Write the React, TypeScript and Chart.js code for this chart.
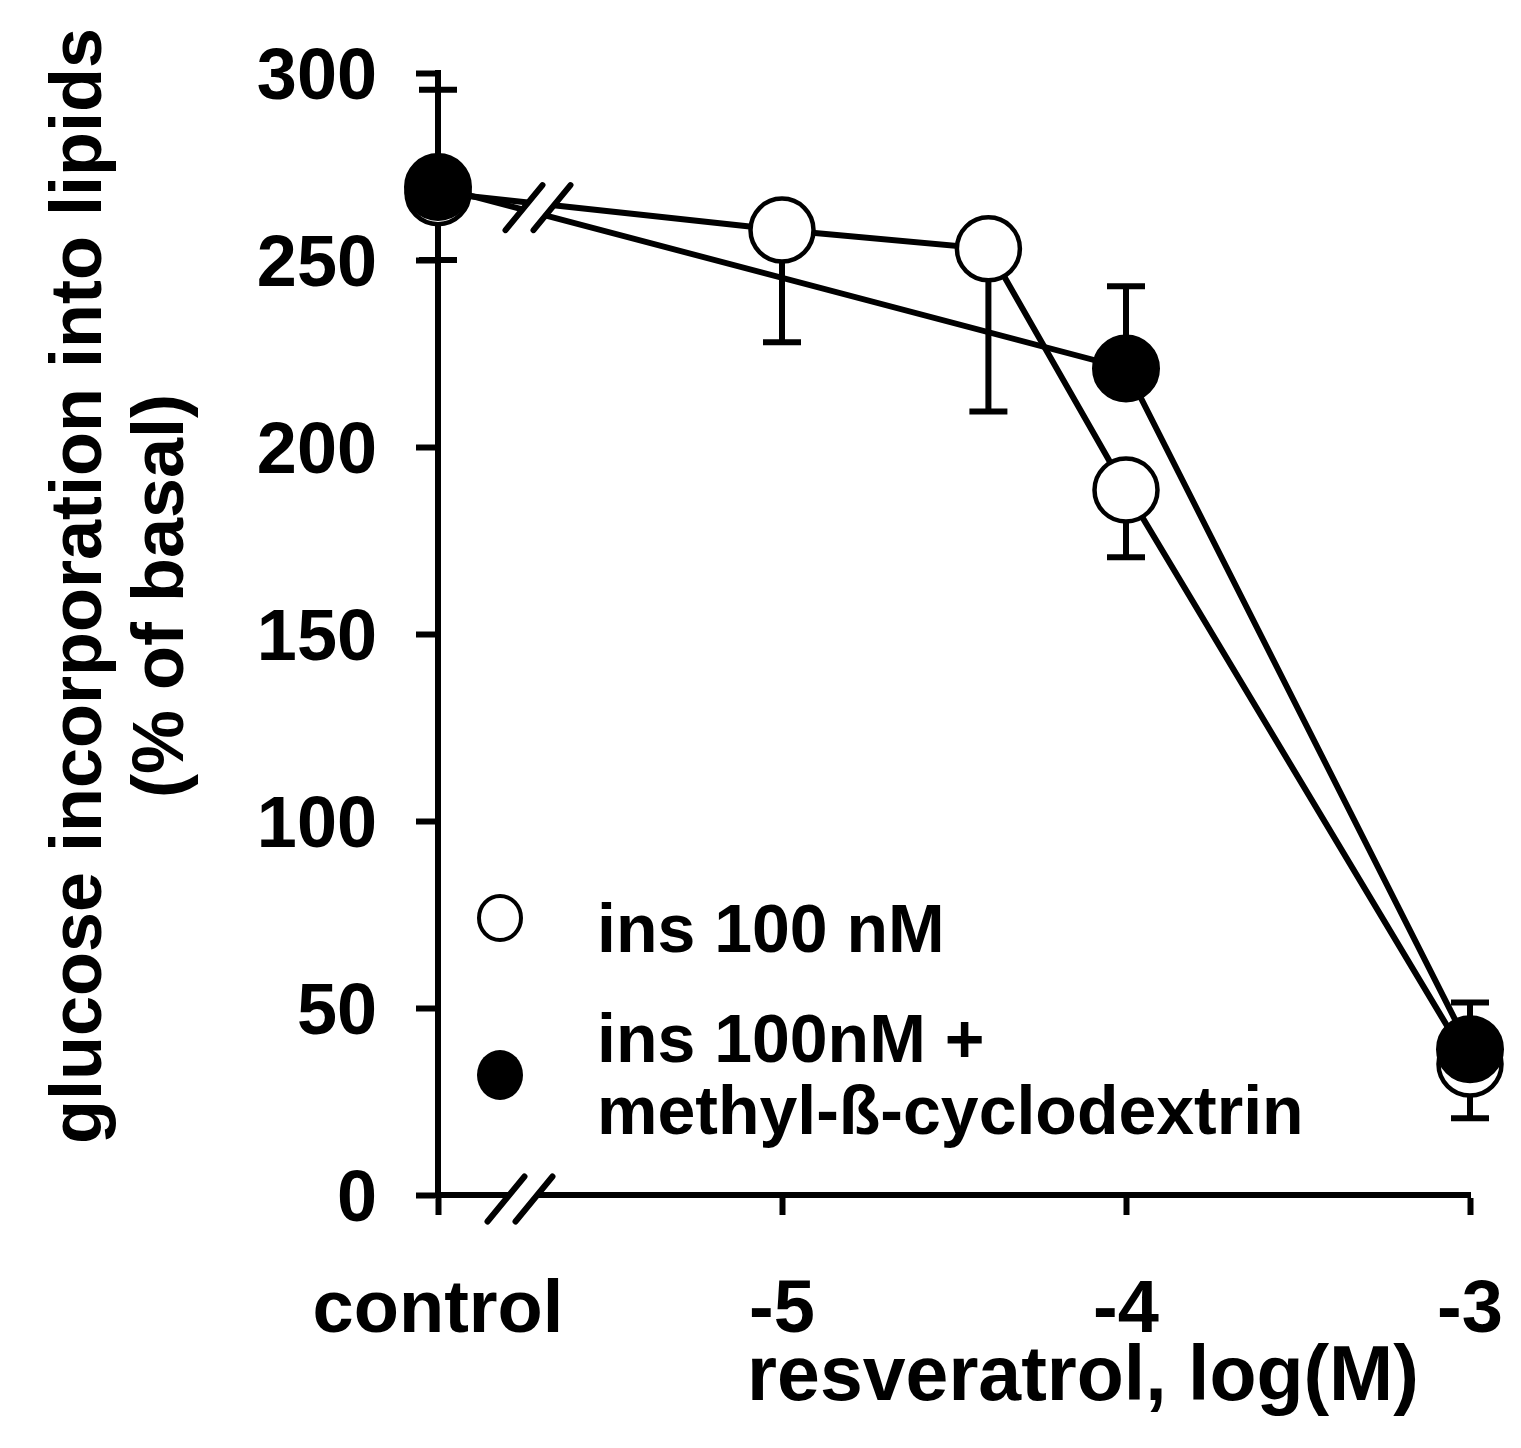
import React, { useEffect, useRef } from 'react';
import { Chart, registerables } from 'chart.js';

Chart.register(...registerables);

const FONT = '"Liberation Sans", Arial, Helvetica, sans-serif';

// x = log10 of resveratrol concentration (M); -6 position is the "control" point
const insDose = [-6, -5, -4.4, -4, -3];
const insOnly = [268, 258, 253, 188.5, 35];
const insOnlyLow = [null, 228, 209.5, 170.5, 20.5];
const insOnlyHigh = [null, null, null, null, null];

const mbcdDose = [-6, -4, -3];
const insMbcd = [269.5, 221, 39];
const insMbcdLow = [250, null, null];
const insMbcdHigh = [295.5, 243, 51.5];

const xTickValues = [-6, -5, -4, -3];
const xTickLabels = ['control', '-5', '-4', '-3'];

const seriesNames = ['ins 100 nM', 'ins 100nM +', 'methyl-ß-cyclodextrin'];
const yTitleLines = ['glucose incorporation into lipids', '(% of basal)'];
const xTitle = 'resveratrol, log(M)';

type Err = { xs: number[]; ys: number[]; lo: (number | null)[]; hi: (number | null)[] };
const errSeries: Err[] = [
  { xs: insDose, ys: insOnly, lo: insOnlyLow, hi: insOnlyHigh },
  { xs: mbcdDose, ys: insMbcd, lo: insMbcdLow, hi: insMbcdHigh },
];

const LW = 6;

const errorBarPlugin = {
  id: 'errorBars',
  beforeDatasetsDraw(chart: any) {
    const { ctx } = chart;
    const xs = chart.scales.x;
    const ys = chart.scales.y;
    const cap = 19;
    ctx.save();
    ctx.strokeStyle = '#000';
    ctx.lineWidth = LW;
    for (const s of errSeries) {
      s.xs.forEach((xv, i) => {
        const px = xs.getPixelForValue(xv);
        const py = ys.getPixelForValue(s.ys[i]);
        for (const e of [s.hi[i], s.lo[i]]) {
          if (e == null) continue;
          const pe = ys.getPixelForValue(e);
          ctx.beginPath();
          ctx.moveTo(px, py);
          ctx.lineTo(px, pe);
          ctx.moveTo(px - cap, pe);
          ctx.lineTo(px + cap, pe);
          ctx.stroke();
        }
      });
    }
    ctx.restore();
  },
};

function drawBreak(ctx: CanvasRenderingContext2D, cx: number, cy: number) {
  const gap = 14;
  const dx = 18.5;
  const dy = 22.5;
  ctx.save();
  ctx.fillStyle = '#fff';
  ctx.beginPath();
  ctx.moveTo(cx - gap - dx, cy + dy);
  ctx.lineTo(cx - gap + dx, cy - dy);
  ctx.lineTo(cx + gap + dx, cy - dy);
  ctx.lineTo(cx + gap - dx, cy + dy);
  ctx.closePath();
  ctx.fill();
  ctx.strokeStyle = '#000';
  ctx.lineWidth = LW;
  ctx.lineCap = 'round';
  ctx.beginPath();
  ctx.moveTo(cx - gap - dx, cy + dy);
  ctx.lineTo(cx - gap + dx, cy - dy);
  ctx.moveTo(cx + gap - dx, cy + dy);
  ctx.lineTo(cx + gap + dx, cy - dy);
  ctx.stroke();
  ctx.restore();
}

const decorPlugin = {
  id: 'decor',
  afterDatasetsDraw(chart: any) {
    const { ctx, chartArea } = chart;
    const ys = chart.scales.y;
    // break marks on the data lines and on the x axis
    drawBreak(ctx, chartArea.left + 100, ys.getPixelForValue(264));
    drawBreak(ctx, chartArea.left + 82, chartArea.bottom + 4);
  },
  afterDraw(chart: any) {
    const { ctx } = chart;
    ctx.save();
    ctx.fillStyle = '#000';
    // y title
    ctx.font = `bold 72px ${FONT}`;
    ctx.textAlign = 'center';
    ctx.textBaseline = 'alphabetic';
    ctx.save();
    ctx.translate(101, 586);
    ctx.rotate(-Math.PI / 2);
    ctx.fillText(yTitleLines[0], 0, 0);
    ctx.restore();
    ctx.save();
    ctx.translate(183, 596);
    ctx.rotate(-Math.PI / 2);
    ctx.fillText(yTitleLines[1], 0, 0);
    ctx.restore();
    // x title
    ctx.font = `bold 77px ${FONT}`;
    ctx.fillText(xTitle, 1083, 1400);
    // legend
    ctx.font = `bold 68px ${FONT}`;
    ctx.textAlign = 'left';
    ctx.fillText(seriesNames[0], 597, 952);
    ctx.fillText(seriesNames[1], 597, 1062);
    ctx.fillText(seriesNames[2], 597, 1134);
    ctx.lineWidth = 4;
    ctx.strokeStyle = '#000';
    ctx.fillStyle = '#fff';
    ctx.beginPath();
    ctx.ellipse(500, 918, 21, 22, 0, 0, Math.PI * 2);
    ctx.fill();
    ctx.stroke();
    ctx.fillStyle = '#000';
    ctx.beginPath();
    ctx.ellipse(500, 1075, 23, 25, 0, 0, Math.PI * 2);
    ctx.fill();
    ctx.restore();
  },
};

export default function App() {
  const ref = useRef<HTMLCanvasElement>(null);
  useEffect(() => {
    const canvas = ref.current!;
    const tickFont = { family: FONT, weight: 'bold' as const };
    const chart = new Chart(canvas, {
      type: 'line',
      data: {
        datasets: [
          {
            label: seriesNames[1] + ' ' + seriesNames[2],
            data: mbcdDose.map((x, i) => ({ x, y: insMbcd[i] })),
            borderColor: '#000',
            borderWidth: LW,
            backgroundColor: '#000',
            pointBackgroundColor: '#000',
            pointBorderColor: '#000',
            pointBorderWidth: 2,
            pointRadius: 33,
            tension: 0,
            clip: false as any,
            order: 0,
          },
          {
            label: seriesNames[0],
            data: insDose.map((x, i) => ({ x, y: insOnly[i] })),
            borderColor: '#000',
            borderWidth: LW,
            backgroundColor: '#fff',
            pointBackgroundColor: '#fff',
            pointBorderColor: '#000',
            pointBorderWidth: 4.5,
            pointRadius: 31.5,
            tension: 0,
            clip: false as any,
            order: 1,
          },
        ],
      },
      options: {
        animation: false,
        responsive: false,
        events: [],
        layout: { padding: { left: 0, top: 73, right: 51, bottom: 0 } },
        plugins: {
          legend: { display: false },
          tooltip: { enabled: false },
        },
        scales: {
          x: {
            type: 'linear',
            min: -6,
            max: -3,
            afterFit: (s: any) => {
              s.height = 253;
              s.paddingLeft = 0;
              s.paddingRight = 0;
            },
            afterBuildTicks: (s: any) => {
              s.ticks = xTickValues.map((v) => ({ value: v }));
            },
            ticks: {
              autoSkip: false,
              maxRotation: 0,
              color: '#000',
              padding: 52,
              font: { ...tickFont, size: 74 },
              callback: (v: any) => {
                const i = xTickValues.indexOf(Number(v));
                return i >= 0 ? xTickLabels[i] : '';
              },
            },
            grid: {
              drawOnChartArea: false,
              drawTicks: true,
              tickLength: 20,
              tickWidth: LW,
              tickColor: '#000',
            },
            border: { display: true, color: '#000', width: LW },
          },
          y: {
            min: 0,
            max: 300,
            afterFit: (s: any) => {
              s.width = 438;
              s.paddingTop = 0;
              s.paddingBottom = 0;
            },
            ticks: {
              stepSize: 50,
              color: '#000',
              padding: 39,
              labelOffset: 6,
              font: { ...tickFont, size: 72 },
            },
            grid: {
              drawOnChartArea: false,
              drawTicks: true,
              tickLength: 22,
              tickWidth: LW,
              tickColor: '#000',
            },
            border: { display: true, color: '#000', width: LW },
          },
        },
      },
      plugins: [errorBarPlugin, decorPlugin],
    });
    return () => chart.destroy();
  }, []);
  return (
    <div style={{ position: 'absolute', left: 0, top: 0, width: 1521, height: 1448, background: '#fff' }}>
      <canvas ref={ref} width={1521} height={1448} style={{ display: 'block', width: 1521, height: 1448 }} />
    </div>
  );
}
